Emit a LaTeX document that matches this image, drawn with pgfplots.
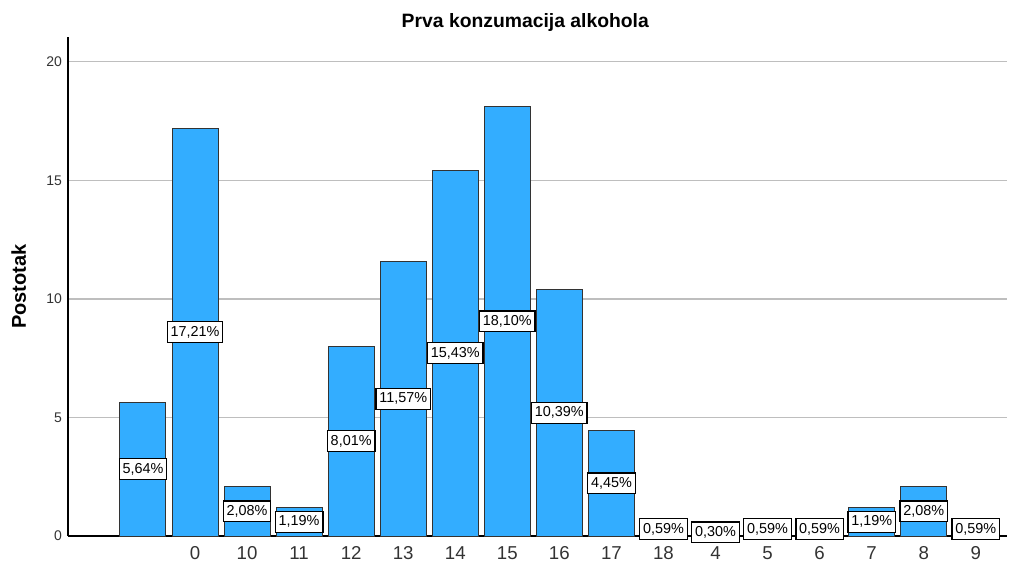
\documentclass[border=0pt]{standalone}
\usepackage{pgfplots}
\pgfplotsset{compat=1.18}
\usepackage{pgfplotstable}
\usepackage{fontspec}
\setmainfont{Liberation Sans}
\usetikzlibrary{calc}
\definecolor{barblue}{RGB}{51,173,255}
\definecolor{gridgray}{RGB}{190,190,190}

\pgfplotstableread{
x y h
0 5.64 2.82
1 17.21 8.605
2 2.08 1.04
3 1.19 0.595
4 8.01 4.005
5 11.57 5.785
6 15.43 7.715
7 18.10 9.05
8 10.39 5.195
9 4.45 2.225
10 0.59 0.295
11 0.30 0.15
12 0.59 0.295
13 0.59 0.295
14 1.19 0.595
15 2.08 1.04
16 0.59 0.295
}\datatable

\begin{document}
\begin{tikzpicture}
\begin{axis}[
  name=ax,
  scale only axis,
  width=704.25pt, height=374.25pt,
  xmin=-1.44, xmax=16.6,
  ymin=0, ymax=21.05,
  axis x line*=bottom, axis y line*=left,
  axis line style={black, line width=0.8pt, -},
  xtick={0,...,16},
  xticklabels={{},0,10,11,12,13,14,15,16,17,18,4,5,6,7,8,9},
  ytick={0,5,10,15,20},
  major tick length=0pt,
  ymajorgrids,
  grid style={gridgray, line width=0.9pt},
  /pgf/number format/assume math mode=true,
  yticklabel style={font=\fontsize{10.5}{12}\selectfont, text=black!80, xshift=-1pt},
  xticklabel style={font=\fontsize{14}{16}\selectfont, text=black!80, yshift=-4.5pt},
  clip=false,
]
\addplot[ybar, bar shift=0pt, bar width=34.5pt, fill=barblue, draw=black!80, line width=0.75pt]
  table[x=x, y=y] {\datatable};
\addplot[draw=none, mark=none,
  point meta=\thisrow{y},
  nodes near coords={\pgfmathprintnumber[fixed, fixed zerofill, precision=2, use comma]{\pgfplotspointmeta}\%},
  every node near coord/.style={anchor=center, fill=white, draw=black, line width=1pt,
    font=\fontsize{10.8}{12}\selectfont, inner xsep=2.5pt, inner ysep=3pt,
    text height=7.8pt, text depth=1.7pt},
  /pgf/number format/assume math mode=true,
] table[x=x, y=h] {\datatable};
\end{axis}
\node[rotate=90, anchor=base, font=\fontsize{15}{17}\bfseries] at ($(ax.west)+(-31.5pt,0)$) {Postotak};
\node[anchor=base, font=\fontsize{14.5}{17}\bfseries] at ($(ax.north west)!0.487!(ax.north east)+(0,6.75pt)$) {Prva konzumacija alkohola};
\path ($(ax.south west)+(-51pt,-21pt)$) rectangle ($(ax.north east)+(1.5pt,27.75pt)$);
\end{tikzpicture}
\end{document}
